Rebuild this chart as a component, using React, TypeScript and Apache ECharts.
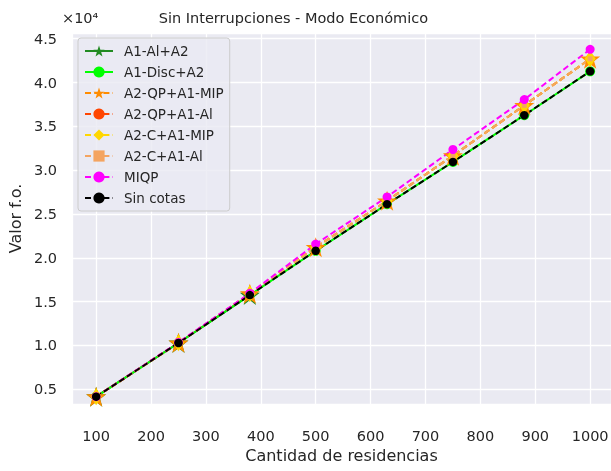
import React, { useEffect, useRef } from "react";
import * as echarts from "echarts";

const residencias = [100, 250, 380, 500, 630, 750, 880, 1000];

const a1AlA2 = [4160, 10280, 15750, null, null, null, null, null];
const a1DiscA2 = [4160, 10280, 15750, 20800, 26120, 30940, 36270, 41280];
const a2QpA1Mip = [4150, 10300, 15900, 21200, 26500, 31650, 37400, 42700];
const a2QpA1Al = [4150, 10300, 15900, 21200, 26500, 31650, 37400, 42700];
const a2CA1Mip = [4150, 10300, 15900, 21200, 26500, 31650, 37400, 42700];
const a2CA1Al = [4150, 10300, 15900, 21200, 26500, 31650, 37400, 42700];
const miqp = [4160, 10350, 15950, 21570, 26950, 32360, 38060, 43790];
const sinCotas = [4160, 10280, 15750, 20800, 26120, 30940, 36270, 41280];

const STAR =
  "path://M50,0 L61.8,34.5 L97.6,34.5 L68.8,55.9 L79.4,90.5 L50,69.1 L20.6,90.5 L31.2,55.9 L2.4,34.5 L38.2,34.5 Z";

const FONT = "DejaVu Sans";
const TXT = "#262626";

function pair(vals: (number | null)[]) {
  return residencias.map((x, i) => [x, vals[i]]);
}

export default function App() {
  const ref = useRef<HTMLDivElement>(null);
  useEffect(() => {
    if (!ref.current) return;
    const chart = echarts.init(ref.current, null, { renderer: "svg" });
    const dash = [6, 3.2];
    const mk = (
      name: string,
      vals: (number | null)[],
      color: string,
      symbol: string,
      size: number | number[],
      dashed: boolean
    ) => ({
      name,
      type: "line",
      data: pair(vals),
      symbol,
      symbolSize: size,
      showSymbol: true,
      connectNulls: false,
      itemStyle: { color, opacity: 1 },
      lineStyle: { color, width: 2, type: dashed ? dash : "solid" },
      emphasis: { disabled: true },
    });
    chart.setOption({
      animation: false,
      textStyle: { fontFamily: FONT },
      grid: {
        left: 72,
        right: 0,
        top: 33,
        bottom: 67,
        containLabel: false,
        outerBoundsMode: "none",
        show: true,
        backgroundColor: "#EAEAF2",
        borderWidth: 0,
      },
      graphic: [
        {
          type: "text",
          x: 293.4,
          y: 18,
          style: {
            text: "Sin Interrupciones - Modo Económico",
            fontFamily: FONT,
            fontSize: 14.5,
            fill: TXT,
            align: "center",
            verticalAlign: "middle",
          },
        },
        {
          type: "text",
          x: 62,
          y: 18,
          style: {
            text: "×10⁴",
            fontFamily: FONT,
            fontSize: 14.5,
            fill: TXT,
            align: "left",
            verticalAlign: "middle",
          },
        },
      ],
      legend: {
        orient: "vertical",
        left: 78,
        top: 38,
        itemWidth: 28,
        itemHeight: 14,
        itemGap: 7,
        padding: [6, 6, 6, 6],
        backgroundColor: "rgba(234,234,242,0.8)",
        borderColor: "#cccccc",
        borderWidth: 1,
        borderRadius: 3,
        textStyle: {
          fontFamily: FONT,
          fontSize: 13.5,
          color: TXT,
          padding: [0, 0, 0, 6],
        },
        selectedMode: false,
      },
      xAxis: {
        type: "value",
        min: 56,
        max: 1038,
        splitNumber: 10,
        name: "Cantidad de residencias",
        nameLocation: "middle",
        nameGap: 43,
        nameTextStyle: { fontFamily: FONT, fontSize: 16, color: TXT },
        axisLine: { show: false },
        axisTick: { show: false },
        axisLabel: {
          showMinLabel: false,
          showMaxLabel: false,
          margin: 24,
          fontFamily: FONT,
          fontSize: 14.5,
          color: TXT,
          formatter: (v: number) => (v % 100 === 0 ? String(v) : ""),
        },
        splitLine: { show: true, lineStyle: { color: "#ffffff", width: 1.3 } },
      },
      yAxis: {
        type: "value",
        min: 3320,
        max: 45650,
        splitNumber: 8,
        name: "Valor f.o.",
        nameLocation: "middle",
        nameGap: 45,
        nameTextStyle: { fontFamily: FONT, fontSize: 16, color: TXT },
        axisLine: { show: false },
        axisTick: { show: false },
        axisLabel: {
          showMinLabel: false,
          showMaxLabel: false,
          margin: 15,
          fontFamily: FONT,
          fontSize: 14.5,
          color: TXT,
          formatter: (v: number) => (v % 5000 === 0 ? (v / 10000).toFixed(1) : ""),
        },
        splitLine: { show: true, lineStyle: { color: "#ffffff", width: 1.3 } },
      },
      series: [
        mk("A1-Al+A2", a1AlA2, "#228B22", STAR, 20, false),
        mk("A1-Disc+A2", a1DiscA2, "#00FF00", "circle", 10, false),
        mk("A2-QP+A1-MIP", a2QpA1Mip, "#FF8C00", STAR, 20, true),
        mk("A2-QP+A1-Al", a2QpA1Al, "#FF4500", "circle", 9, true),
        mk("A2-C+A1-MIP", a2CA1Mip, "#FFD700", "diamond", [11, 17], true),
        mk("A2-C+A1-Al", a2CA1Al, "#F4A460", "rect", 5, true),
        mk("MIQP", miqp, "#FF00FF", "circle", 9, true),
        mk("Sin cotas", sinCotas, "#000000", "circle", 8.5, true),
      ],
    });
    return () => chart.dispose();
  }, []);
  return (
    <div
      ref={ref}
      style={{ position: "fixed", left: 0, top: 0, width: 611, height: 471 }}
    />
  );
}
